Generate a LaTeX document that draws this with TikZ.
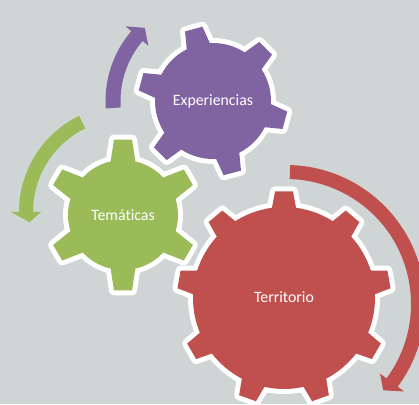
\documentclass[tikz,border=0pt]{standalone}
\usepackage{fontspec}
\setmainfont{Carlito}[Ligatures={NoCommon}]
\definecolor{bg}{RGB}{207,213,213}
\definecolor{gpurple}{RGB}{128,100,162}
\definecolor{ggreen}{RGB}{155,187,89}
\definecolor{gred}{RGB}{192,80,77}
% #1 cx, #2 cy, #3 teeth, #4 first tooth angle, #5 root radius, #6 tip radius, #7 base half-angle, #8 tip half-angle, #9 colour
\newcommand{\mygear}[9]{%
  \begin{scope}[shift={(#1,#2)}]
    \path[fill=#9, preaction={draw=white, fill=white, line width=10pt, line join=round}]
      ({#4-#7}:#5pt)
      \foreach \k in {1,...,#3} {
        -- ({#4+(\k-1)*360/#3-#8}:#6pt)
        -- ({#4+(\k-1)*360/#3+#8}:#6pt)
        -- ({#4+(\k-1)*360/#3+#7}:#5pt)
        arc[start angle={#4+(\k-1)*360/#3+#7}, end angle={#4+\k*360/#3-#7}, radius=#5pt]
      } -- cycle;
  \end{scope}}
\tikzset{lbl/.style={text=white, font=\fontsize{15.8}{18}\selectfont, inner sep=0pt}}
\begin{document}
\begin{tikzpicture}[x=1pt,y=1pt]
\useasboundingbox (0,0) rectangle (419,404);
\clip (0,0) rectangle (419,404);
\fill[bg] (0,0) rectangle (419,404);
% circular arrows
\fill[gpurple, shift={(213,303)}] (184:107.5pt) arc[start angle=184, end angle=139.5, radius=107.5pt]
  -- (139.5:115pt) -- (133:100pt) -- (139.5:85pt) -- (139.5:92.5pt)
  arc[start angle=139.5, end angle=184, radius=92.5pt] -- cycle;
\fill[ggreen, shift={(126,192)}] (116:107pt) arc[start angle=116, end angle=180, radius=107pt]
  -- (180:115pt) -- (186:97pt) -- (180:85pt) -- (180:93pt)
  arc[start angle=180, end angle=116, radius=93pt] -- cycle;
\fill[gred, shift={(286,100)}] (88.3:139pt) arc[start angle=88.3, end angle=-36.5, radius=139pt]
  -- (-36.5:147pt) -- (-41.6:130pt) -- (-36.5:117pt) -- (-36.5:125pt)
  arc[start angle=-36.5, end angle=88.3, radius=125pt] -- cycle;
% gears
\mygear{123}{189}{6}{90}{55}{76}{13}{6.8}{ggreen}
\mygear{213}{303}{6}{45}{58}{75}{11.9}{6.9}{gpurple}
\mygear{284}{106}{9}{90}{91}{107}{7.6}{4.8}{gred}
\node[lbl] (tem) at (123,189) {Temáticas};
\node[lbl] (exp) at (213,303) {Experiencias};
\node[lbl] (ter) at (284,107) {Territorio};
\end{tikzpicture}
\end{document}
